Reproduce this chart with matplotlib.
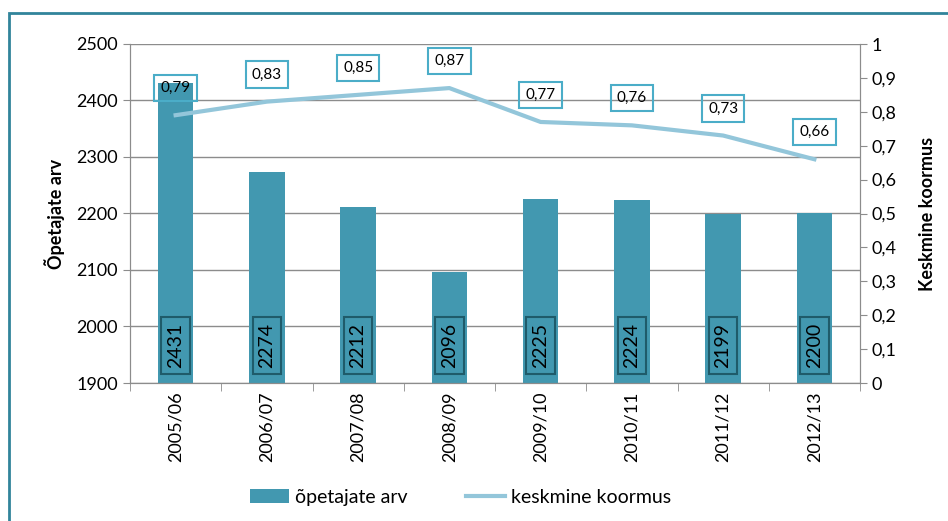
import numpy as np
import matplotlib.pyplot as plt
from matplotlib.patches import Rectangle
from matplotlib.ticker import FuncFormatter

plt.rcParams['font.family'] = ['Lato', 'DejaVu Sans']

years = ['2005/06', '2006/07', '2007/08', '2008/09', '2009/10', '2010/11', '2011/12', '2012/13']
teachers = [2431, 2274, 2212, 2096, 2225, 2224, 2199, 2200]
load = [0.79, 0.83, 0.85, 0.87, 0.77, 0.76, 0.73, 0.66]

bar_color = '#4298B0'
line_color = '#93C6DA'
grid_color = '#8C8C8C'

fig = plt.figure(figsize=(9.48, 5.21), dpi=100)
ax = fig.add_axes([130 / 948, 1 - 383 / 521, 730 / 948, 339 / 521])
ax2 = ax.twinx()

x = np.arange(len(years))
ax.bar(x, teachers, width=0.39, color=bar_color, zorder=2, label='õpetajate arv')
ax.set_ylim(1900, 2500)
ax.set_xlim(-0.5, len(years) - 0.5)
ax.set_yticks(np.arange(1900, 2501, 100))
ax.yaxis.grid(True, color=grid_color, lw=1, zorder=0)
ax.set_axisbelow(True)

for xi, v in zip(x, teachers):
    ax.text(xi, 1966, str(v), rotation=90, ha='center', va='center', fontsize=14,
            color='black', zorder=4,
            bbox=dict(boxstyle='square,pad=0.3', fc=bar_color, ec='#1F5B6A', lw=1.5))

ax2.plot(x, load, color=line_color, lw=3, zorder=3, label='keskmine koormus')
ax2.set_ylim(0, 1)
ax2.set_yticks(np.arange(0, 1.01, 0.1))
ax2.yaxis.set_major_formatter(FuncFormatter(lambda v, p: ('%g' % round(v, 1)).replace('.', ',')))
for xi, v in zip(x, load):
    ax2.annotate(('%.2f' % v).replace('.', ','), (xi, v), xytext=(0, 19.5), textcoords='offset points',
                 ha='center', va='center', fontsize=11, zorder=5,
                 bbox=dict(boxstyle='square,pad=0.4', fc='none', ec='#4BADC8', lw=1.5))

ax.set_xticks(x)
ax.set_xticklabels(years, rotation=90, fontsize=13)
ax.set_xticks(np.arange(-0.5, len(years)), minor=True)
ax.tick_params(axis='x', which='major', length=0, pad=6)
ax.tick_params(axis='x', which='minor', length=6, color=grid_color)
ax.tick_params(axis='y', labelsize=13, length=5, color=grid_color)
ax2.tick_params(axis='y', labelsize=13, length=5, color=grid_color)

for a in (ax, ax2):
    a.spines['top'].set_visible(False)
    for s in ('left', 'right', 'bottom'):
        a.spines[s].set_color(grid_color)

ax.set_ylabel('Õpetajate arv', fontsize=13, fontweight='bold', labelpad=8)
ax2.set_ylabel('Keskmine koormus', fontsize=13, fontweight='bold', labelpad=16)

h1, l1 = ax.get_legend_handles_labels()
h2, l2 = ax2.get_legend_handles_labels()
fig.legend(h1 + h2, l1 + l2, loc='center', bbox_to_anchor=(0.486, 0.045), ncol=2,
           frameon=False, fontsize=14, handlelength=2.0, columnspacing=3.0, handletextpad=0.3)

fig.patches.append(Rectangle((9 / 948, -0.05), 1.0, 1 - 13 / 521 + 0.05,
                             transform=fig.transFigure, fill=False, ec='#31849B', lw=2))

fig.savefig('out.png', dpi=100)
